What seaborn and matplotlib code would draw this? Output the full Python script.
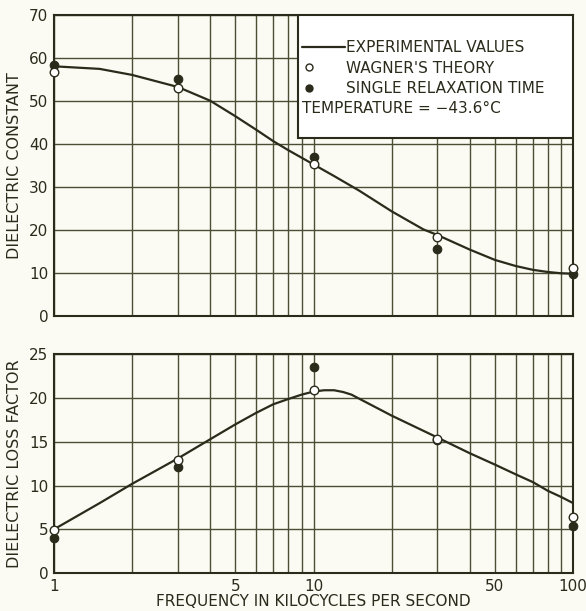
import matplotlib
matplotlib.use("Agg")
import matplotlib.pyplot as plt
from matplotlib.patches import Rectangle
from matplotlib.lines import Line2D
from matplotlib.legend_handler import HandlerLine2D
import seaborn as sns

# frequencies of the measured/computed points (kc/s)
freq_pts = [1, 3, 10, 30, 100]

# dielectric constant
eps_wagner = [56.7, 53.0, 35.3, 18.4, 11.1]
eps_single = [58.4, 55.1, 36.9, 15.6, 9.8]

# dielectric loss factor
loss_wagner = [4.9, 12.9, 20.9, 15.3, 6.4]
loss_single = [4.0, 12.1, 23.6, 15.2, 5.4]

# experimental curves
eps_freq = [1, 1.5, 2, 3, 4, 5, 6, 7, 8, 10, 12, 15, 20, 26.5, 30,
            40, 50, 60, 70, 80, 90, 100]
eps_curve = [58.0, 57.4, 56.0, 53.2, 50.0, 46.4, 43.3, 40.6, 38.5, 35.2, 32.5,
             29.1, 24.3, 20.1, 18.8, 15.4, 13.0, 11.6, 10.7, 10.2, 9.9, 9.8]
loss_freq = [1, 1.5, 2, 3, 4, 5, 6, 7, 8, 9, 10, 11, 12, 13, 14, 20, 30,
             40, 50, 60, 70, 80, 90, 100]
loss_curve = [5.0, 8.0, 10.2, 13.1, 15.3, 17.0, 18.3, 19.3, 19.9, 20.4, 20.75,
              20.9, 20.9, 20.7, 20.4, 18.0, 15.5, 13.7, 12.4, 11.3, 10.4, 9.4,
              8.7, 8.0]

bg = "#fbfbf3"
ink = "#2b2b1c"
grid_c = "#4d4d35"

sns.set_theme(style="white")
plt.rcParams['font.family'] = ['DejaVu Sans']

fig = plt.figure(figsize=(5.86, 6.11), dpi=100, facecolor=bg)
ax1 = fig.add_axes([0.092, 0.483, 0.886, 0.493])
ax2 = fig.add_axes([0.092, 0.062, 0.886, 0.358])

minor = [2, 3, 4, 6, 7, 8, 9, 20, 30, 40, 60, 70, 80, 90]


def style_axes(ax, ymax, ystep, ylabel):
    ax.set_facecolor(bg)
    ax.set_xscale("log")
    ax.set_xlim(1, 100)
    ax.set_ylim(0, ymax)
    ax.set_yticks(range(0, ymax + 1, ystep))
    ax.set_xticks([1, 5, 10, 50, 100])
    ax.set_xticks(minor, minor=True)
    ax.grid(True, which="both", axis="both", color=grid_c, lw=1.0)
    ax.set_axisbelow(True)
    ax.tick_params(which="both", length=0, labelsize=11, colors=ink, pad=4)
    for s in ax.spines.values():
        s.set_visible(True)
        s.set_color(ink)
        s.set_linewidth(1.5)
    ax.set_ylabel(ylabel, fontsize=11.5, color=ink, labelpad=5)


def draw(ax, xs, curve, single, wagner):
    sns.lineplot(x=xs, y=curve, ax=ax, color=ink, lw=1.6, zorder=3)
    sns.scatterplot(x=freq_pts, y=single, ax=ax, color=ink, s=38,
                    edgecolor=ink, linewidth=0.8, zorder=4, clip_on=False)
    sns.scatterplot(x=freq_pts, y=wagner, ax=ax, color="white", s=38,
                    edgecolor=ink, linewidth=1.0, zorder=5, clip_on=False)


style_axes(ax1, 70, 10, "DIELECTRIC CONSTANT")
draw(ax1, eps_freq, eps_curve, eps_single, eps_wagner)
ax1.set_xticklabels([])
ax1.set_xlabel("")

style_axes(ax2, 25, 5, "DIELECTRIC LOSS FACTOR")
draw(ax2, loss_freq, loss_curve, loss_single, loss_wagner)
ax2.set_xticklabels(["1", "5", "10", "50", "100"])
ax2.set_xlabel("FREQUENCY IN KILOCYCLES PER SECOND", fontsize=11,
               color=ink, labelpad=0)


class LeftMarker(HandlerLine2D):
    # put the legend marker near the left end of the handle
    def create_artists(self, legend, orig_handle, xdescent, ydescent, width,
                       height, fontsize, trans):
        return super().create_artists(legend, orig_handle, xdescent, ydescent,
                                      width * 0.3, height, fontsize, trans)


# legend box in the upper right corner of the top panel
box = Rectangle((0.471, 0.591), 0.529, 0.409, transform=ax1.transAxes,
                facecolor="white", edgecolor=ink, lw=1.5, zorder=6)
ax1.add_patch(box)
h_line = Line2D([], [], color=ink, lw=1.6)
h_open = Line2D([], [], ls="", marker="o", mfc="white", mec=ink, ms=5)
h_fill = Line2D([], [], ls="", marker="o", mfc=ink, mec=ink, ms=5)
leg = ax1.legend([h_line, h_open, h_fill],
                 ["EXPERIMENTAL VALUES", "WAGNER'S THEORY",
                  "SINGLE RELAXATION TIME"],
                 handler_map={h_open: LeftMarker(), h_fill: LeftMarker()},
                 loc="upper left", bbox_to_anchor=(0.478, 0.915),
                 frameon=False, fontsize=11, handlelength=2.8,
                 handletextpad=0.1, labelspacing=0.35, borderpad=0,
                 borderaxespad=0)
for t in leg.get_texts():
    t.set_color(ink)
leg.set_zorder(7)
ax1.text(0.478, 0.69, "TEMPERATURE = \u221243.6\u00b0C", transform=ax1.transAxes,
         fontsize=11, color=ink, zorder=7, va="center")

fig.savefig("out.png", dpi=100, facecolor=bg)
